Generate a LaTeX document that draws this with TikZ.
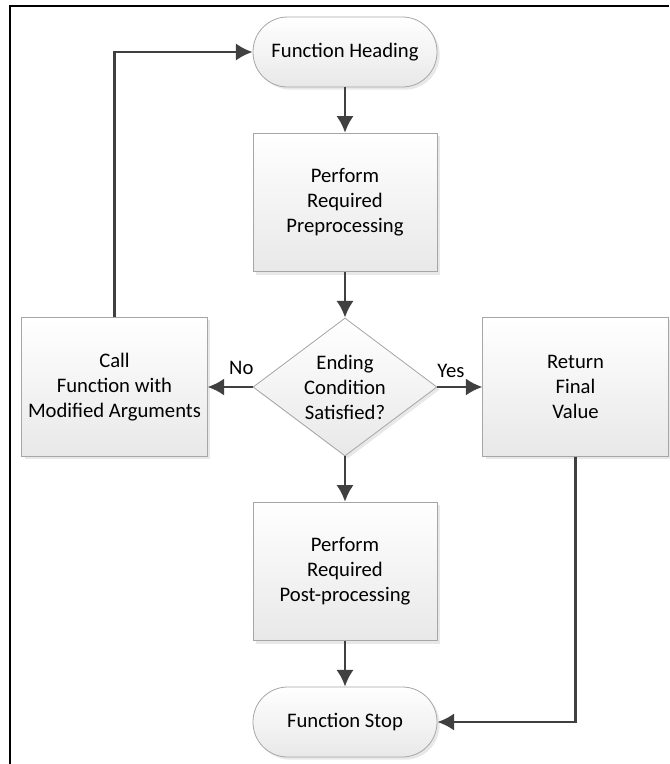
\documentclass[tikz,border=0pt]{standalone}
\usepackage{fontspec}
\setmainfont{Carlito}
\usetikzlibrary{shapes.geometric,shadows,arrows.meta}

\definecolor{linegray}{HTML}{404040}
\definecolor{edgegray}{HTML}{A6A6A6}

\begin{document}
\begin{tikzpicture}[x=0.75pt,y=-0.75pt,
  font=\fontsize{15.5}{18.75}\selectfont,
  box/.style={draw=edgegray,line width=0.6pt,top color=white,bottom color=gray!18,
    drop shadow={shadow xshift=2pt,shadow yshift=-2pt,opacity=0.18},
    minimum width=138pt,minimum height=104pt,align=center,inner sep=0pt},
  term/.style={box,minimum height=52.5pt,rounded corners=26pt},
  decide/.style={box,diamond,aspect=1.333,minimum width=138pt,minimum height=103.5pt},
  flow/.style={draw=linegray,line width=2.1pt,-{Latex[length=12.5pt,width=13pt]}}]

\useasboundingbox (0,0) rectangle (669,764);

% Frame
\draw[line width=1.1pt] (10,764) -- (10,6) -- (669,6);

% ---- Middle column ----
\node[term] (head) at (345,52) {Function Heading};
\node[box] (pre) at (345,202.5) {Perform\\Required\\Preprocessing};
\node[decide] (cond) at (345,387) {Ending\\Condition\\Satisfied?};
\node[box] (post) at (345,571.5) {Perform\\Required\\Post-processing};
\node[term] (stop) at (345,722) {Function Stop};

% ---- Side boxes ----
\node[box,minimum width=139pt] (call) at (114.5,387) {Call\\Function with\\Modified Arguments};
\node[box,minimum width=139pt] (ret) at (575.5,387) {Return\\Final\\Value};

% Arrows
\draw[flow] (head) -- (pre);
\draw[flow] (pre) -- (cond);
\draw[flow] (cond) -- (post);
\draw[flow] (post) -- (stop);
\draw[flow] (cond.west) -- node[above=5pt,pos=0.25]{No} (call.east);
\draw[flow] (cond.east) -- node[above=3pt,pos=0.3]{Yes} (ret.west);

% Loop back and exit
\draw[flow] (call.north) |- (head.west);
\draw[flow] (ret.south) |- (stop.east);

\end{tikzpicture}
\end{document}
